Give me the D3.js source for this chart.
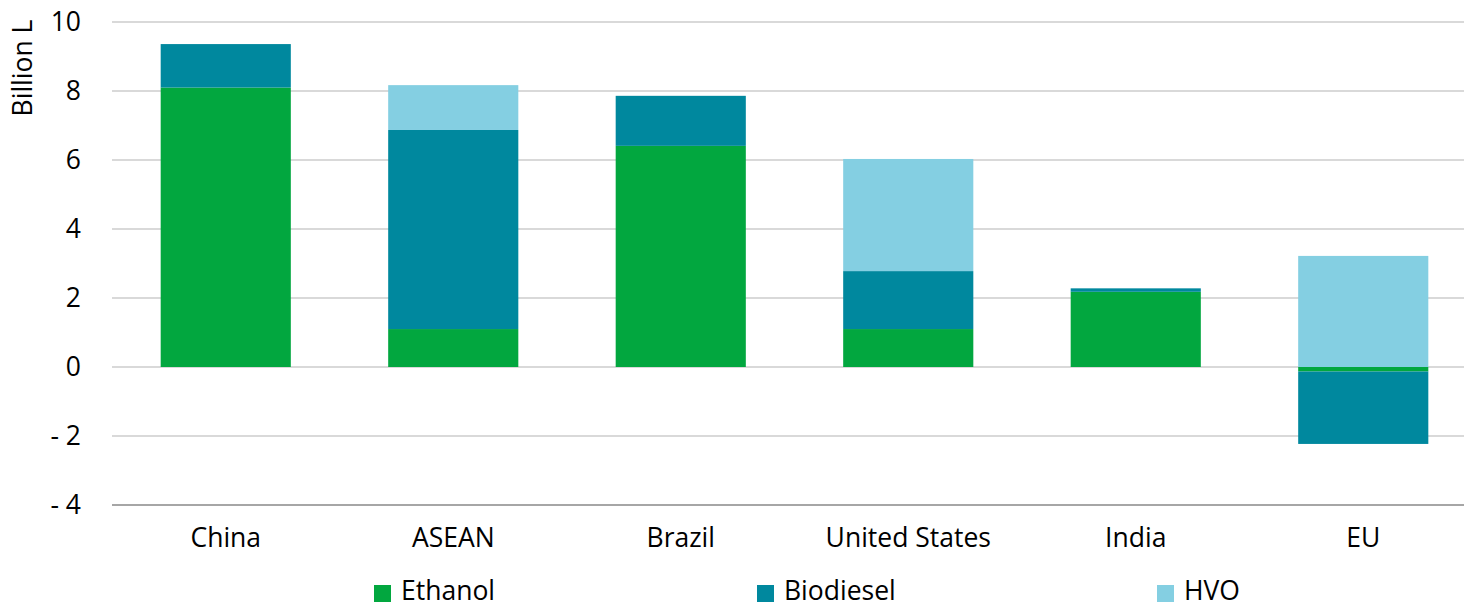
<!DOCTYPE html>
<html>
<head>
<meta charset="utf-8">
<script src="https://cdn.jsdelivr.net/npm/d3@7"></script>
<style>
  html, body { margin: 0; padding: 0; background: #fff; }
  svg { display: block; font-family: "Open Sans", "Noto Sans", sans-serif; }
</style>
</head>
<body>
<svg id="chart" width="1464" height="608"></svg>
<script>
// ---- data ----
const regions = ["China", "ASEAN", "Brazil", "United States", "India", "EU"];
const ethanol   = [8.10, 1.10, 6.41, 1.10, 2.18, -0.13];
const biodiesel = [1.26, 5.77, 1.45, 1.68, 0.10, -2.10];
const hvo       = [0.00, 1.30, 0.00, 3.25, 0.00, 3.22];
const seriesNames = ["Ethanol", "Biodiesel", "HVO"];
const yTicks = [-4, -2, 0, 2, 4, 6, 8, 10];
const yTitle = "Billion L";

// ---- layout ----
const FS = 26.5;
const colors = { Ethanol: "#02A73F", Biodiesel: "#00889E", HVO: "#84CFE2" };
const plotLeft = 112, plotRight = 1477, gridRight = 1464;

const rows = regions.map((r, i) => ({ region: r, Ethanol: ethanol[i], Biodiesel: biodiesel[i], HVO: hvo[i] }));

const svg = d3.select("#chart");

const x = d3.scaleBand().domain(regions).range([plotLeft, plotRight]).paddingInner(0.428).paddingOuter(0.214);
const y = d3.scaleLinear().domain([-4, 10]).range([505, 22]);

// gridlines
svg.append("g").selectAll("line").data(yTicks).join("line")
  .attr("x1", plotLeft).attr("x2", gridRight)
  .attr("y1", d => y(d)).attr("y2", d => y(d))
  .attr("stroke", d => d === -4 ? "#A6A6A6" : "#D9D9D9")
  .attr("stroke-width", 2);

// y axis labels
const yAxis = d3.axisLeft(y).tickValues(yTicks).tickSize(0).tickPadding(0)
  .tickFormat(d => d < 0 ? "- " + Math.abs(d) : String(d));
const ya = svg.append("g").attr("transform", "translate(81,0)").call(yAxis);
ya.select(".domain").remove();
ya.selectAll("text").attr("font-size", FS).attr("fill", "#000").attr("font-family", "Open Sans, sans-serif");

// y title
svg.append("text")
  .attr("transform", "translate(32,68) rotate(-90)")
  .attr("text-anchor", "middle")
  .attr("font-size", FS).attr("fill", "#000")
  .text(yTitle);

// stacked bars
const stack = d3.stack().keys(seriesNames).offset(d3.stackOffsetDiverging);
const layers = stack(rows);
svg.append("g").selectAll("g").data(layers).join("g")
  .attr("fill", d => colors[d.key])
  .selectAll("rect").data(d => d).join("rect")
  .attr("x", d => x(d.data.region))
  .attr("width", x.bandwidth())
  .attr("y", d => y(Math.max(d[0], d[1])))
  .attr("height", d => Math.abs(y(d[0]) - y(d[1])));

// x axis labels
const xAxis = d3.axisBottom(x).tickSize(0).tickPadding(0);
const xa = svg.append("g").attr("transform", "translate(0,528)").call(xAxis);
xa.select(".domain").remove();
xa.selectAll("text").attr("font-size", FS).attr("fill", "#000").attr("font-family", "Open Sans, sans-serif");

// legend
const legendX = [374, 757, 1157];
const lg = svg.append("g").selectAll("g").data(seriesNames).join("g")
  .attr("transform", (d, i) => `translate(${legendX[i]},0)`);
lg.append("rect").attr("x", 0).attr("y", 585).attr("width", 17).attr("height", 17)
  .attr("fill", d => colors[d]);
lg.append("text").attr("x", 27).attr("y", 600).attr("font-size", FS).attr("fill", "#000").text(d => d);
</script>
</body>
</html>
